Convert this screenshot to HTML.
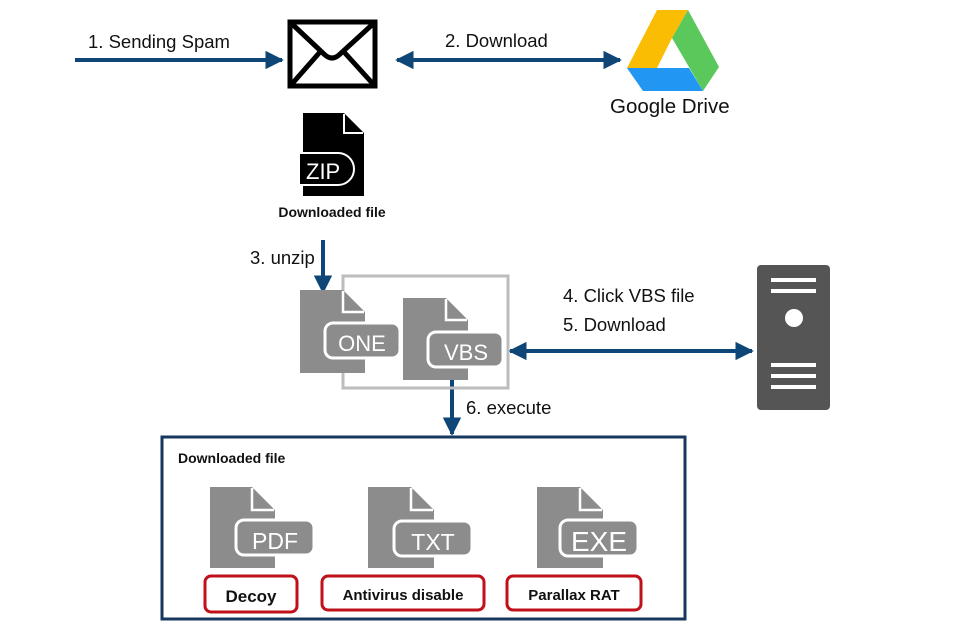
<!DOCTYPE html>
<html><head><meta charset="utf-8"><style>
html,body{margin:0;padding:0;background:#fff;}
svg{display:block;font-family:"Liberation Sans",Arial,sans-serif;}
</style></head><body>
<svg width="960" height="640" viewBox="0 0 960 640" xmlns="http://www.w3.org/2000/svg">
<defs>
<marker id="ah" viewBox="0 0 10 10" refX="9" refY="5" markerWidth="4.6" markerHeight="4.6" orient="auto-start-reverse" markerUnits="strokeWidth">
<path d="M0,0 L10,5 L0,10 Z" fill="#0d4677"/></marker>
</defs>
<g stroke="#0d4677" stroke-width="4" fill="none">
<line x1="75" y1="60" x2="282" y2="60" marker-end="url(#ah)"/>
<line x1="397" y1="60" x2="620" y2="60" marker-start="url(#ah)" marker-end="url(#ah)"/>
<line x1="323" y1="240" x2="323" y2="292" marker-end="url(#ah)"/>
<line x1="510" y1="351" x2="752" y2="351" marker-start="url(#ah)" marker-end="url(#ah)"/>
<line x1="452" y1="380" x2="452" y2="434" marker-end="url(#ah)"/>
</g>
<g font-size="18.5" fill="#111">
<text x="88" y="48">1. Sending Spam</text>
<text x="445" y="47">2. Download</text>
<text x="250" y="264">3. unzip</text>
<text x="563" y="302">4. Click VBS file</text>
<text x="563" y="331">5. Download</text>
<text x="466" y="414">6. execute</text>
</g>
<!-- envelope -->
<rect x="290" y="22" width="85" height="64" fill="#fff" stroke="#000" stroke-width="5"/>
<path d="M291,23 L325,55 Q332,61 339,55 L374,23 M291,85 L320,52 M374,85 L344,52" stroke="#000" stroke-width="5" fill="none"/>
<!-- drive -->
<polygon points="657,10 688,10 672,38 657,68 627,68" fill="#fbbc04"/>
<polygon points="688,10 719,67 703,91 672,38" fill="#5ac85a"/>
<polygon points="627,68 689,68 703,91 643,91" fill="#2196f3"/>
<polygon points="672,39 658,67 688,67" fill="#fff"/>
<text x="610" y="113" font-size="20.5" fill="#111">Google Drive</text>
<!-- zip -->
<path d="M303,113 H344 L364,133 V196 H303 Z" fill="#000"/>
<polyline points="344,114 344,133 363,133" fill="none" stroke="#fff" stroke-width="2"/>
<path d="M300,153 H338 A16,16 0 0 1 338,185 H300" fill="#000" stroke="#fff" stroke-width="2"/>
<text x="306" y="179" font-size="22" fill="#fff">ZIP</text>
<text x="332" y="217" font-size="14" font-weight="bold" text-anchor="middle" fill="#111">Downloaded file</text>
<!-- gray container -->
<rect x="343" y="276" width="165" height="112" fill="none" stroke="#bdbdbd" stroke-width="3"/>
<!-- ONE -->
<path d="M300,290 H343 L365,312 V373 H300 Z" fill="#8c8c8c"/>
<polyline points="343,291 343,312 364,312" fill="none" stroke="#fff" stroke-width="2.5"/>
<rect x="325" y="323" width="75" height="35" rx="8" fill="#8c8c8c" stroke="#fff" stroke-width="3"/>
<text x="362" y="351" font-size="22" fill="#fff" text-anchor="middle">ONE</text>
<!-- VBS -->
<path d="M403,298 H446 L468,320 V380 H403 Z" fill="#8c8c8c"/>
<polyline points="446,299 446,320 467,320" fill="none" stroke="#fff" stroke-width="2.5"/>
<rect x="428" y="332" width="75" height="35" rx="8" fill="#8c8c8c" stroke="#fff" stroke-width="3"/>
<text x="466" y="360" font-size="22" fill="#fff" text-anchor="middle">VBS</text>
<!-- server -->
<rect x="757" y="265" width="73" height="145" rx="4" fill="#555"/>
<rect x="771" y="278" width="45" height="4" fill="#fff"/>
<rect x="771" y="289" width="45" height="4" fill="#fff"/>
<circle cx="794" cy="318" r="9" fill="#fff"/>
<rect x="771" y="363" width="45" height="4" fill="#fff"/>
<rect x="771" y="374" width="45" height="4" fill="#fff"/>
<rect x="771" y="385" width="45" height="4" fill="#fff"/>
<!-- bottom box -->
<rect x="162" y="437" width="523" height="182" fill="none" stroke="#17375e" stroke-width="3"/>
<text x="178" y="463" font-size="14" font-weight="bold" fill="#111">Downloaded file</text>
<!-- PDF -->
<path d="M210,487 H252 L275,510 V568 H210 Z" fill="#8c8c8c"/>
<polyline points="252,488 252,510 274,510" fill="none" stroke="#fff" stroke-width="2.5"/>
<rect x="236" y="520" width="78" height="35" rx="8" fill="#8c8c8c" stroke="#fff" stroke-width="3"/>
<text x="275" y="549" font-size="23" fill="#fff" text-anchor="middle">PDF</text>
<!-- TXT -->
<path d="M368,487 H411 L434,510 V568 H368 Z" fill="#8c8c8c"/>
<polyline points="411,488 411,510 433,510" fill="none" stroke="#fff" stroke-width="2.5"/>
<rect x="394" y="521" width="78" height="35" rx="8" fill="#8c8c8c" stroke="#fff" stroke-width="3"/>
<text x="433" y="550" font-size="23" fill="#fff" text-anchor="middle">TXT</text>
<!-- EXE -->
<path d="M537,487 H580 L603,510 V568 H537 Z" fill="#8c8c8c"/>
<polyline points="580,488 580,510 602,510" fill="none" stroke="#fff" stroke-width="2.5"/>
<rect x="560" y="520" width="78" height="36" rx="8" fill="#8c8c8c" stroke="#fff" stroke-width="3"/>
<text x="599" y="551" font-size="28" fill="#fff" text-anchor="middle">EXE</text>
<!-- red labels -->
<g fill="#fff" stroke="#c0101a" stroke-width="3">
<rect x="205" y="576" width="92" height="36" rx="6"/>
<rect x="322" y="576" width="162" height="34" rx="6"/>
<rect x="507" y="576" width="134" height="34" rx="6"/>
</g>
<g font-weight="bold" fill="#111" text-anchor="middle">
<text x="251" y="602" font-size="17">Decoy</text>
<text x="403" y="600" font-size="15">Antivirus disable</text>
<text x="574" y="600" font-size="15">Parallax RAT</text>
</g>
</svg>
</body></html>
